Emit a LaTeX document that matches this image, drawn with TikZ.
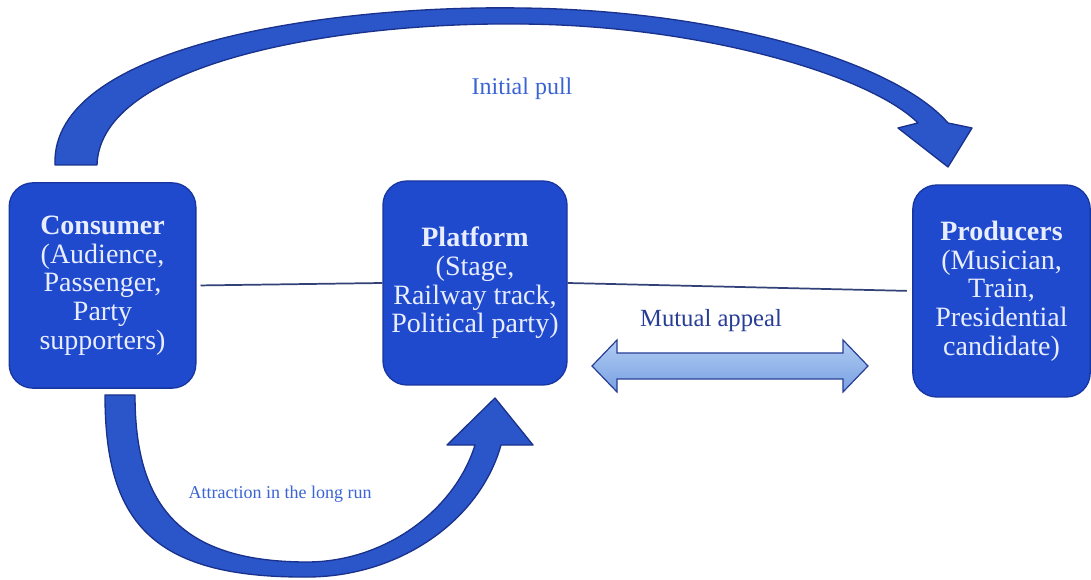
\documentclass[tikz,border=0pt]{standalone}
\usepackage{fontspec}
\setmainfont{Liberation Serif}
\usetikzlibrary{calc}

\definecolor{boxblue}{RGB}{32,74,206}
\definecolor{boxedge}{RGB}{24,54,160}
\definecolor{boxtext}{RGB}{232,238,255}
\definecolor{arrowblue}{RGB}{42,86,202}
\definecolor{arrowedge}{RGB}{26,50,140}
\definecolor{labelblue}{RGB}{58,100,212}
\definecolor{appealtext}{RGB}{40,62,150}
\definecolor{linkgray}{RGB}{50,66,120}
\definecolor{paleblue}{RGB}{176,204,242}
\definecolor{midblue}{RGB}{120,160,226}

\tikzset{
  card/.style={draw=boxedge, line width=1pt, fill=boxblue, rounded corners=18pt,
    text=boxtext, align=center, inner sep=0pt,
    font=\fontsize{21}{21.5}\selectfont},
  link/.style={draw=linkgray, line width=1.3pt},
  bigarrow/.style={fill=arrowblue, draw=arrowedge, line width=1pt, line join=round},
  lbl/.style={inner sep=0pt, anchor=base}
}

\begin{document}
\begin{tikzpicture}[x=0.75pt, y=-0.75pt]
\useasboundingbox (0,0) rectangle (1091,580);

% the three actors
\node[card, minimum width=140pt, minimum height=154pt] (cons) at (102.5,285.5)
  {\textbf{Consumer}\\(Audience,\\Passenger,\\Party\\supporters)};
\node[card, minimum width=138pt, minimum height=153pt] (plat) at (475,283)
  {\textbf{Platform}\\(Stage,\\Railway track,\\Political party)};
\node[card, minimum width=133pt, minimum height=159pt] (prod) at (1001.5,291)
  {\textbf{Producers}\\(Musician,\\Train,\\Presidential\\candidate)};

% straight links between the actors
\draw[link, shorten <=3pt] (cons.east) -- (plat.west);
\draw[link, shorten >=4pt] (plat.east) -- (prod.west);

% curved arrow over the top: consumer to producers
\path[bigarrow]
  (55,165) .. controls (50,45) and (330,5) .. (520,8)
  .. controls (720,10) and (895,62) .. (948,123)
  -- (972,128) -- (948,167) -- (898,128) -- (918,123)
  .. controls (870,75) and (700,25) .. (520,24)
  .. controls (340,22) and (100,62) .. (97,165) -- cycle;
\node[lbl, text=labelblue, font=\fontsize{18}{18}\selectfont] (pull) at (522,95) {Initial pull};

% curved arrow underneath: consumer to platform
\node[lbl, text=labelblue, font=\fontsize{13.5}{13.5}\selectfont] (attr) at (280,498)
  {Attraction in the long run};
\path[bigarrow]
  (105,395) .. controls (105,520) and (150,578) .. (307,577)
  .. controls (400,577) and (480,520) .. (501,445)
  -- (533,445) -- (495,398) -- (447,445) -- (475,445)
  .. controls (455,510) and (385,562) .. (307,562)
  .. controls (175,562) and (135,500) .. (135,395) -- cycle;

% double arrow for mutual appeal
\node[lbl, text=appealtext, font=\fontsize{18.5}{18.5}\selectfont] (appeal) at (711,327) {Mutual appeal};
\path[draw=appealtext, line width=0.9pt, top color=paleblue, bottom color=midblue]
  (592,366) -- (617,340) -- (617,353) -- (843,353) -- (843,340) -- (868,366)
  -- (843,392) -- (843,379) -- (617,379) -- (617,392) -- cycle;
\end{tikzpicture}
\end{document}
